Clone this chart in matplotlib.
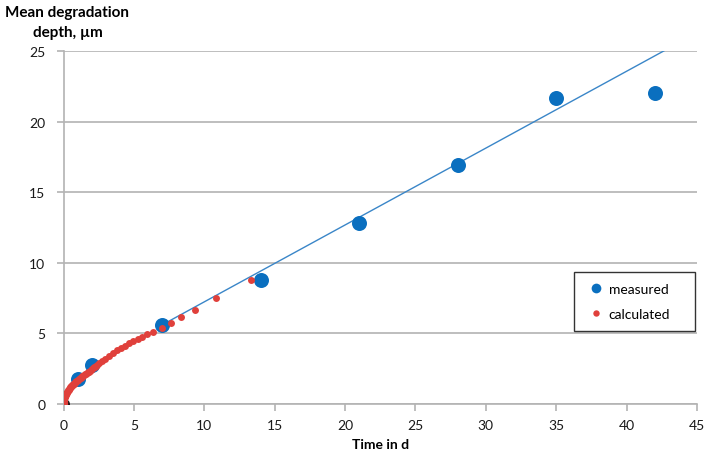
import matplotlib.pyplot as plt

plt.rcParams['font.family'] = ['Lato', 'DejaVu Sans']

# measured points
meas_t = [1, 2, 7, 14, 21, 28, 35, 42]
meas_d = [1.8, 2.75, 5.6, 8.8, 12.8, 16.9, 21.7, 22.0]

# calculated curve
calc_t = [0, 0.005, 0.01, 0.02, 0.03, 0.045, 0.06, 0.08, 0.1, 0.125, 0.15,
          0.175, 0.2, 0.23, 0.26, 0.295, 0.33, 0.365, 0.4, 0.44, 0.48, 0.52,
          0.56, 0.6, 0.65, 0.7, 0.74, 0.79, 0.84, 0.89, 0.94, 1.0, 1.05,
          1.1, 1.16, 1.22, 1.28, 1.34, 1.4, 1.47, 1.53, 1.6, 1.66, 1.73,
          1.8, 1.87, 1.94, 2.01, 2.09, 2.17, 2.24, 2.32, 2.4, 2.55, 2.71,
          2.97, 3.25, 3.54, 3.82, 4.1, 4.39, 4.67, 4.96, 5.27, 5.6, 5.95,
          6.38, 6.97, 7.64, 8.36, 9.36, 10.85, 13.34]
calc_d = [0, 0.12, 0.17, 0.24, 0.29, 0.35, 0.41, 0.47, 0.53, 0.59, 0.65,
          0.71, 0.76, 0.81, 0.86, 0.92, 0.97, 1.02, 1.07, 1.12, 1.17, 1.22,
          1.26, 1.31, 1.36, 1.41, 1.45, 1.5, 1.55, 1.6, 1.64, 1.69, 1.73,
          1.77, 1.82, 1.87, 1.91, 1.96, 2.0, 2.05, 2.09, 2.14, 2.18, 2.23,
          2.28, 2.34, 2.4, 2.46, 2.52, 2.59, 2.65, 2.72, 2.78, 2.91, 3.03,
          3.22, 3.41, 3.6, 3.79, 3.96, 4.13, 4.29, 4.44, 4.6, 4.77, 4.94,
          5.13, 5.4, 5.75, 6.13, 6.67, 7.48, 8.8]

# linear trend line
trend_t = [7, 43]
trend_d = [5.6, 25.2]

origin_t = [0]
origin_d = [0]

fig = plt.figure(figsize=(7.12, 4.6), dpi=100)
ax = fig.add_axes([0.0892, 0.1196, 0.8898, 0.7674])

grid_c = '#b3b3b3'
ax.plot(trend_t, trend_d, color='#3a86c8', lw=1.0, zorder=2)
ax.plot(meas_t, meas_d, 'o', color='#0a6fbf', ms=10.8, mec='none',
        label='measured', zorder=3)
ax.plot(origin_t, origin_d, 'o', color='#2a1a1a', ms=8, mec='none', zorder=3.5)
ax.plot(calc_t, calc_d, 'o', color='#e0403b', ms=5.0, mec='none',
        label='calculated', zorder=4)

ax.set_xlim(0, 45)
ax.set_ylim(0, 25)
ax.set_xticks(range(0, 46, 5))
ax.set_yticks(range(0, 26, 5))
ax.yaxis.grid(True, color=grid_c, lw=1.2)
ax.set_axisbelow(True)
for s in ['top', 'right']:
    ax.spines[s].set_visible(False)
for s in ['left', 'bottom']:
    ax.spines[s].set_color(grid_c)
    ax.spines[s].set_linewidth(1.2)
ax.tick_params(axis='both', direction='out', length=5, width=1.2,
               color=grid_c, labelsize=10, labelcolor='#1a1a1a')
ax.tick_params(axis='y', pad=8)
ax.tick_params(axis='x', pad=6)

ax.set_xlabel('Time in d', fontsize=10, fontweight='bold', labelpad=5)
fig.text(0.0934, 0.972, 'Mean degradation', fontsize=11, fontweight='bold',
         ha='center', va='center')
fig.text(0.0955, 0.928, 'depth, µm', fontsize=11, fontweight='bold',
         ha='center', va='center')

leg = ax.legend(loc='upper left', bbox_to_anchor=(0.806, 0.212, 0.191, 0.162),
                mode='expand', fontsize=10,
                frameon=True, fancybox=False, edgecolor='black',
                handletextpad=0.1, handlelength=1.6, labelspacing=0.9,
                borderpad=0.8, borderaxespad=0)
leg.get_frame().set_linewidth(1.0)
leg.legend_handles[0].set_markersize(7)
leg.legend_handles[1].set_markersize(4.6)

fig.savefig('out.png', dpi=100)
